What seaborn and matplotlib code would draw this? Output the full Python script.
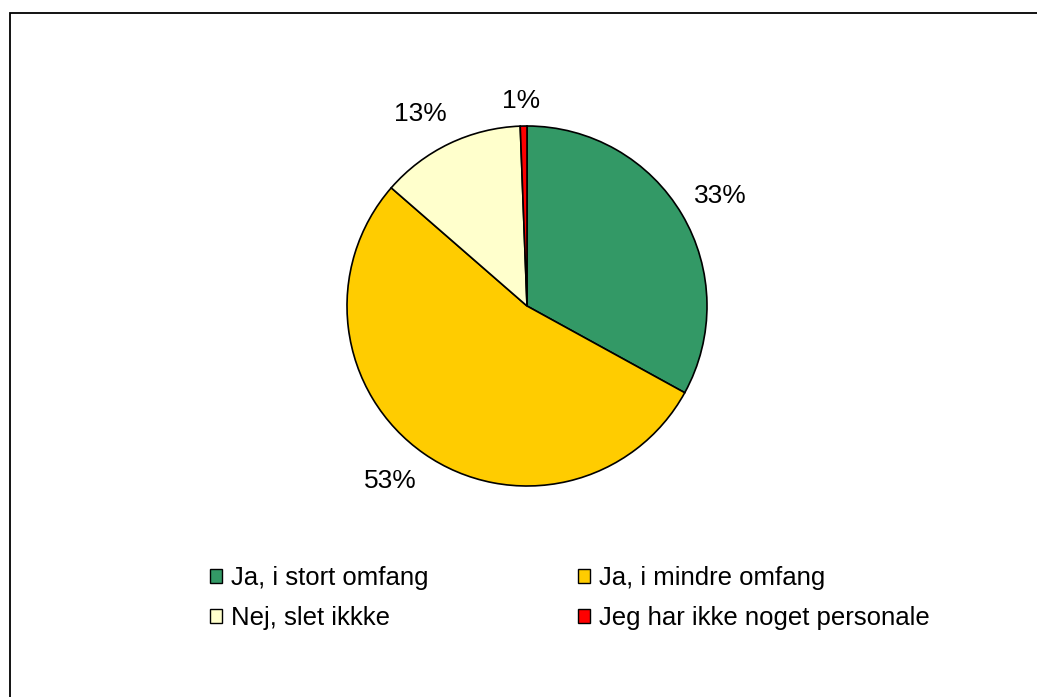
import numpy as np
import matplotlib
matplotlib.use("Agg")
import matplotlib.pyplot as plt
import seaborn as sns
from matplotlib.patches import Patch, Rectangle

sns.set_theme(style="white")
plt.rcParams['font.family'] = ['Liberation Sans', 'DejaVu Sans']
plt.rcParams['text.color'] = 'black'

categories = ["Ja, i stort omfang", "Ja, i mindre omfang", "Nej, slet ikkke", "Jeg har ikke noget personale"]
shares = [33.0, 53.4, 13.0, 0.6]
pct_labels = ["33%", "53%", "13%", "1%"]
colors = ["#339966", "#FFCC00", "#FFFFCC", "#FF0000"]

# label placement (distance in radii, small angle nudge in degrees)
label_dist = [1.235, 1.235, 1.22, 1.14]
label_nudge = [-1.0, -3.0, 3.5, 0.5]

fig = plt.figure(figsize=(10.37, 6.97), dpi=100)
W, H = 1037, 697
cx, cy, r = 527, 306, 180
ax = fig.add_axes([(cx - r) / W, (H - cy - r) / H, 2 * r / W, 2 * r / H])

wedges, _ = ax.pie(shares, colors=colors, startangle=90, counterclock=False,
                   wedgeprops=dict(edgecolor="black", linewidth=1.2))
ax.set_xlim(-1, 1)
ax.set_ylim(-1, 1)
ax.set_aspect("equal")
ax.axis("off")

# percentage labels outside the slices
for w, lab, d, nd in zip(wedges, pct_labels, label_dist, label_nudge):
    ang = np.deg2rad((w.theta1 + w.theta2) / 2 + nd)
    ax.text(d * np.cos(ang), d * np.sin(ang), lab, ha="center", va="center",
            fontsize=19, color="black", clip_on=False)

# legend filled row by row, like the original
order = [0, 2, 1, 3]
handles = [Patch(facecolor=colors[i], edgecolor="black", linewidth=1) for i in order]
labels = [categories[i] for i in order]
fig.legend(handles, labels, ncol=2, frameon=False, fontsize=18.5, labelcolor="black",
           loc="upper left", bbox_to_anchor=(210 / W, 1 - 566 / H),
           handlelength=0.48, handleheight=0.48, handletextpad=0.35,
           columnspacing=5.8, labelspacing=0.63, borderaxespad=0, borderpad=0)

# outer chart frame (cut by the image edge on the right and bottom)
fig.patches.append(Rectangle((9.5 / W, -0.1), 1.2, 1 - 12.5 / H + 0.1,
                             transform=fig.transFigure, fill=False,
                             edgecolor="black", linewidth=1.3))

fig.savefig("out.png", dpi=100)
